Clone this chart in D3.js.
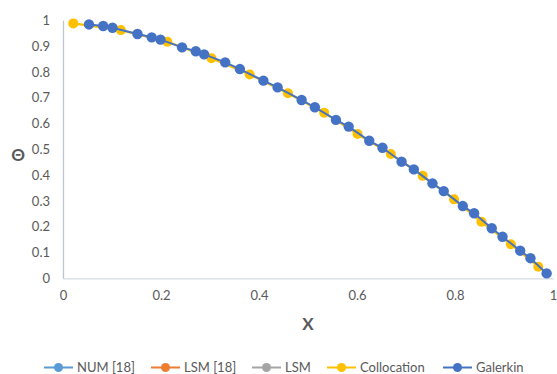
<!DOCTYPE html>
<html>
<head>
<meta charset="utf-8">
<script src="https://cdn.jsdelivr.net/npm/d3@7"></script>
<style>
  body { margin: 0; background: #fff; }
  text { font-family: Lato, "Open Sans", sans-serif; }
</style>
</head>
<body>
<div id="chart"></div>
<script>
// values
var collocX = [0.021, 0.118, 0.213, 0.303, 0.381, 0.459, 0.533, 0.601, 0.669, 0.734, 0.798, 0.854, 0.914, 0.970];
var collocY = [0.988, 0.962, 0.917, 0.853, 0.790, 0.717, 0.642, 0.559, 0.482, 0.397, 0.306, 0.219, 0.132, 0.045];

var galerkinX = [0.053, 0.082, 0.101, 0.152, 0.181, 0.199, 0.243, 0.271, 0.288, 0.331, 0.361, 0.409, 0.438,
                 0.487, 0.514, 0.557, 0.583, 0.625, 0.652, 0.691, 0.716, 0.754, 0.777, 0.816, 0.839, 0.875,
                 0.897, 0.933, 0.954, 0.987];
var galerkinY = [0.984, 0.978, 0.971, 0.947, 0.934, 0.925, 0.895, 0.880, 0.868, 0.837, 0.811, 0.766, 0.740,
                 0.691, 0.663, 0.614, 0.588, 0.533, 0.506, 0.452, 0.422, 0.368, 0.338, 0.280, 0.252, 0.194,
                 0.161, 0.107, 0.078, 0.019];

var xTicks = [0, 0.2, 0.4, 0.6, 0.8, 1];
var yTicks = [0, 0.1, 0.2, 0.3, 0.4, 0.5, 0.6, 0.7, 0.8, 0.9, 1];

var legendNames = ["NUM [18]", "LSM [18]", "LSM", "Collocation", "Galerkin"];
var legendColors = ["#5b9bd5", "#ed7d31", "#a5a5a5", "#ffc000", "#4472c4"];

var width = 557, height = 374;
var margin = {top: 20.3, right: 4, bottom: 95.7, left: 63};

var svg = d3.select("#chart")
    .append("svg")
        .attr("width", width)
        .attr("height", height);

var x = d3.scaleLinear()
    .domain([0, 1])
    .range([margin.left, width - margin.right]);

var y = d3.scaleLinear()
    .domain([0, 1])
    .range([height - margin.bottom, margin.top]);

// axes
var xAxis = svg.append("g")
    .attr("transform", "translate(0," + y(0) + ")")
    .call(d3.axisBottom(x).tickValues(xTicks).tickSize(0).tickPadding(12).tickFormat(d3.format("")));
xAxis.select(".domain").attr("stroke", "#d5dbe3").attr("stroke-width", 1.3);

var yAxis = svg.append("g")
    .attr("transform", "translate(" + x(0) + ",0)")
    .call(d3.axisLeft(y).tickValues(yTicks).tickSize(0).tickPadding(13).tickFormat(d3.format("")));
yAxis.select(".domain").attr("stroke", "#bcc6d2").attr("stroke-width", 1.3);

svg.selectAll(".tick text")
    .style("font-size", "13px")
    .style("font-family", "Lato, sans-serif")
    .attr("fill", "#595959");

// axis titles
svg.append("text")
    .attr("x", 18)
    .attr("y", 161)
    .attr("text-anchor", "middle")
    .style("font-size", "17px")
    .style("font-weight", "bold")
    .attr("fill", "#595959")
    .text("Θ");

svg.append("text")
    .attr("x", 308)
    .attr("y", 330)
    .attr("text-anchor", "middle")
    .style("font-size", "17px")
    .style("font-weight", "bold")
    .attr("fill", "#595959")
    .text("X");

// series
var line = d3.line()
    .x(function(d) { return x(d[0]); })
    .y(function(d) { return y(d[1]); });

var colloc = d3.zip(collocX, collocY);
var galerkin = d3.zip(galerkinX, galerkinY);

svg.append("path")
    .datum(colloc)
    .attr("fill", "none")
    .attr("stroke", "#ffc000")
    .attr("stroke-width", 2.2)
    .attr("d", line);

svg.selectAll(".colloc")
    .data(colloc)
    .enter()
    .append("circle")
    .attr("class", "colloc")
    .attr("cx", function(d) { return x(d[0]); })
    .attr("cy", function(d) { return y(d[1]); })
    .attr("r", 5)
    .attr("fill", "#ffc000");

svg.append("path")
    .datum(galerkin)
    .attr("fill", "none")
    .attr("stroke", "#4472c4")
    .attr("stroke-width", 2)
    .attr("d", line);

svg.selectAll(".galerkin")
    .data(galerkin)
    .enter()
    .append("circle")
    .attr("class", "galerkin")
    .attr("cx", function(d) { return x(d[0]); })
    .attr("cy", function(d) { return y(d[1]); })
    .attr("r", 5.2)
    .attr("fill", "#4472c4");

// legend
var legendX = [44, 151, 252, 327, 443];
var legend = svg.selectAll(".legend")
    .data(legendNames)
    .enter()
    .append("g")
    .attr("class", "legend")
    .attr("transform", function(d, i) { return "translate(" + legendX[i] + ",367.5)"; });

legend.append("line")
    .attr("x1", 0)
    .attr("x2", 29)
    .attr("stroke", function(d, i) { return legendColors[i]; })
    .attr("stroke-width", 2);

legend.append("circle")
    .attr("cx", 14.5)
    .attr("r", 4.5)
    .attr("fill", function(d, i) { return legendColors[i]; });

legend.append("text")
    .attr("x", 33)
    .attr("y", 4.5)
    .style("font-size", "13px")
    .attr("fill", "#595959")
    .text(function(d) { return d; });
</script>
</body>
</html>
